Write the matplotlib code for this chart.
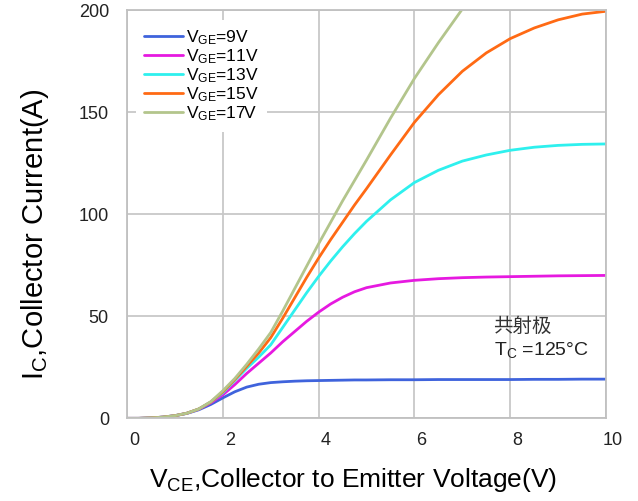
import matplotlib
matplotlib.use("Agg")
import matplotlib.pyplot as plt
import matplotlib.transforms as mtransforms

plt.rcParams['font.family'] = ['Liberation Sans', 'Noto Sans CJK SC', 'DejaVu Sans']
plt.rcParams['mathtext.fontset'] = 'custom'
plt.rcParams['mathtext.rm'] = 'Liberation Sans'
plt.rcParams['mathtext.it'] = 'Liberation Sans'

vce = [0, 0.25, 0.5, 0.75, 1, 1.25, 1.5, 1.75, 2, 2.25, 2.5, 2.75, 3, 3.25, 3.5, 3.75,
       4, 4.25, 4.5, 4.75, 5, 5.5, 6, 6.5, 7, 7.5, 8, 8.5, 9, 9.5, 10]
ic_9 = [0, 0, 0.2, 0.6, 1.3, 2.4, 4.2, 6.8, 10, 13, 15.3, 16.7, 17.5, 17.9, 18.2, 18.4,
        18.5, 18.6, 18.7, 18.8, 18.8, 18.9, 18.9, 19, 19, 19, 19, 19.1, 19.1, 19.2, 19.2]
ic_11 = [0, 0, 0.2, 0.6, 1.3, 2.5, 4.5, 7.6, 11.5, 16.5, 22, 27, 32, 37.5, 42.5, 47.5,
         52, 56, 59.3, 62, 64, 66.3, 67.6, 68.4, 68.9, 69.2, 69.4, 69.6, 69.8, 69.9, 70]
ic_13 = [0, 0, 0.2, 0.6, 1.3, 2.5, 4.6, 8, 12.5, 18.5, 24.5, 30, 36, 44.5, 53, 61.5,
         69.5, 77, 84, 90.5, 96.5, 107, 115.5, 121.5, 126, 129, 131.3, 132.8, 133.7, 134.2, 134.4]
ic_15 = [0, 0, 0.2, 0.6, 1.3, 2.5, 4.6, 8, 13, 19, 25.5, 32, 39.5, 49, 59, 69,
         78.5, 87.5, 96, 104.5, 112.5, 129, 145, 158.5, 170, 179, 186, 191.2, 195.2, 198, 199.4]
vce_17 = [0, 0.25, 0.5, 0.75, 1, 1.25, 1.5, 1.75, 2, 2.25, 2.5, 2.75, 3, 3.25, 3.5, 3.75,
          4, 4.25, 4.5, 4.75, 5, 5.5, 6, 6.5, 7]
ic_17 = [0, 0, 0.2, 0.6, 1.3, 2.5, 4.6, 8.2, 13.5, 19.5, 26.5, 34, 42, 52.5, 63.5, 74.5,
         85.5, 96, 106.5, 116.5, 126.5, 147, 166.5, 184, 200.5]

labels = ['9V', '11V', '13V', '15V', '17V']
colors = ['#3f63dc', '#e619e0', '#2ef0ee', '#ff6a14', '#b3c58c']
xticks = [0, 2, 4, 6, 8, 10]
yticks = [0, 50, 100, 150, 200]

fig = plt.figure(figsize=(6.38, 5.01), dpi=100)
ax = fig.add_axes([0.199, 0.165, 0.751, 0.815])

series = [(vce, ic_9), (vce, ic_11), (vce, ic_13), (vce, ic_15), (vce_17, ic_17)]
for (xs, ys), lab, c in zip(series, labels, colors):
    ax.plot(xs, ys, color=c, lw=2.0, label='V$_{\\mathrm{GE}}$=' + lab,
            solid_joinstyle='round', solid_capstyle='round')

ax.set_xlim(0, 10)
ax.set_ylim(0, 200)
ax.set_xticks(xticks)
ax.set_yticks(yticks)
ax.grid(True, color='#c8c8c8', lw=1.3)
ax.set_axisbelow(True)
for s in ax.spines.values():
    s.set_color('#c0c0c0')
    s.set_linewidth(1.3)
ax.tick_params(length=0, labelsize=13, colors='#222222')
ax.tick_params(axis='x', pad=10)
ax.tick_params(axis='y', pad=13)
off = mtransforms.ScaledTranslation(7 / 100, 0, fig.dpi_scale_trans)
for lbl in ax.get_xticklabels():
    lbl.set_transform(lbl.get_transform() + off)

ax.set_xlabel('V$_{\\mathrm{CE}}$,Collector to Emitter Voltage(V)', fontsize=19, labelpad=12)
ax.xaxis.label.set_x(0.472)
ax.set_ylabel('I$_{\\mathrm{C}}$,Collector Current(A)', fontsize=21, labelpad=20)
ax.yaxis.label.set_y(0.45)

leg = ax.legend(loc='upper left', frameon=True, fontsize=12.5, handlelength=2.2,
                labelspacing=0.02, borderpad=0.5, handletextpad=0.2,
                bbox_to_anchor=(0.0, 0.998))
leg.get_frame().set_edgecolor('none')
leg.get_frame().set_facecolor('white')
leg.get_frame().set_alpha(1.0)

ax.text(7.65, 45, '共射极', fontsize=14, color='#333333', va='center',
        family=['Noto Sans CJK SC'])
ax.text(7.65, 33.5, 'T$_{\\mathrm{C}}$ =125°C', fontsize=14, color='#222222', va='center')

fig.savefig('out.png', dpi=100)
